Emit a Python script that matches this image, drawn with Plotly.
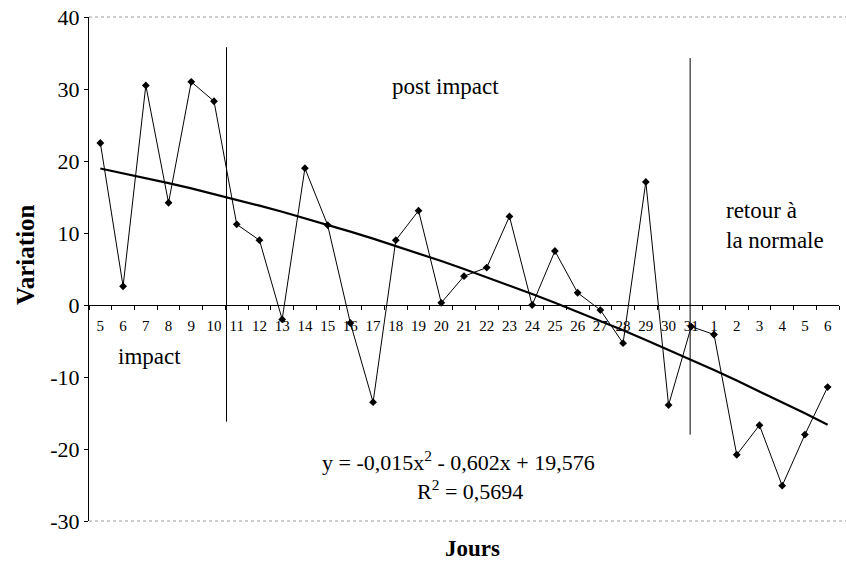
import plotly.graph_objects as go

# ---- data ----
day_labels = ["5", "6", "7", "8", "9", "10", "11", "12", "13", "14", "15", "16",
              "17", "18", "19", "20", "21", "22", "23", "24", "25", "26", "27",
              "28", "29", "30", "31", "1", "2", "3", "4", "5", "6"]
variation = [22.5, 2.6, 30.5, 14.2, 31.0, 28.3, 11.2, 9.0, -2.0, 19.0, 11.1, -2.5,
             -13.5, 9.0, 13.1, 0.3, 4.0, 5.2, 12.3, 0.0, 7.5, 1.7, -0.7,
             -5.3, 17.1, -13.9, -3.0, -4.1, -20.8, -16.7, -25.1, -18.0, -11.4]
trend_coeffs = [-0.015, -0.602, 19.576]   # y = a x^2 + b x + c (x = 1..n)
y_ticks = [-30, -20, -10, 0, 10, 20, 30, 40]
y_tick_labels = ["-30", "-20", "-10", "0", "10", "20", "30", "40"]

serif = "Liberation Serif, Times New Roman, serif"

xs = list(range(len(day_labels)))
trend = [trend_coeffs[0] * (i + 1) ** 2 + trend_coeffs[1] * (i + 1) + trend_coeffs[2] for i in xs]

fig = go.Figure()
fig.add_trace(go.Scatter(x=xs, y=trend, mode="lines",
                         line=dict(color="black", width=2.2), hoverinfo="skip"))
fig.add_trace(go.Scatter(x=xs, y=variation, mode="lines+markers",
                         line=dict(color="black", width=1),
                         marker=dict(symbol="diamond", size=6, color="black")))

W, H = 846, 563
ml, mr, mt, mb = 89, 7, 17, 42
pw = W - ml - mr
ph = H - mt - mb

fig.update_layout(
    width=W, height=H, showlegend=False,
    margin=dict(l=ml, r=mr, t=mt, b=mb, autoexpand=False),
    paper_bgcolor="white", plot_bgcolor="white",
    font=dict(family=serif, color="black"),
    xaxis=dict(range=[-0.5, len(xs) - 0.5], tickvals=xs, ticktext=day_labels,
               ticks="", showgrid=False, zeroline=False, automargin=False,
               showline=True, linecolor="black", linewidth=1,
               anchor="free", position=(0 - (-30)) / 70,
               tickfont=dict(size=15, family=serif),
               ticklabelstandoff=7,
               minor=dict(tickvals=[i - 0.5 for i in range(len(xs) + 1)],
                          ticks="outside", ticklen=4, tickcolor="black", tickwidth=1,
                          showgrid=False)),
    yaxis=dict(range=[-30, 40], tickvals=y_ticks, ticktext=y_tick_labels,
               ticks="outside", ticklen=4, automargin=False,
               tickcolor="black", showgrid=False, zeroline=False,
               showline=True, linecolor="black", linewidth=1,
               tickfont=dict(size=22, family=serif)),
)

# dotted gray top / bottom frame
for yv in (1, 0):
    fig.add_shape(type="line", xref="paper", yref="paper", x0=0, x1=1.01, y0=yv, y1=yv,
                  line=dict(color="#9a9a9a", width=1, dash="dot"))

# period separators
fig.add_shape(type="line", x0=5.55, x1=5.55, y0=-16.2, y1=35.8,
              line=dict(color="black", width=1))
fig.add_shape(type="line", x0=25.95, x1=25.95, y0=-18.0, y1=34.3,
              line=dict(color="black", width=1))

ann = dict(showarrow=False, font=dict(family=serif, size=23, color="black"))
fig.add_annotation(x=15.2, y=30.3, text="post impact", xanchor="center", **ann)
fig.add_annotation(x=2.15, y=-7.2, text="impact", xanchor="center", **ann)
fig.add_annotation(x=27.45, y=11.1, text="retour à<br>la normale", xanchor="left",
                   align="left", **ann)
fig.add_annotation(x=15.75, y=-21.6, text="y = -0,015x<sup>2</sup> - 0,602x + 19,576",
                   xanchor="center", showarrow=False,
                   font=dict(family=serif, size=22, color="black"))
fig.add_annotation(x=16.25, y=-25.7, text="R<sup>2</sup> = 0,5694",
                   xanchor="center", showarrow=False,
                   font=dict(family=serif, size=22, color="black"))

# axis titles
fig.add_annotation(xref="paper", yref="paper", x=(472 - ml) / pw, y=(H - mb - 548) / ph,
                   xanchor="center", yanchor="middle",
                   text="<b>Jours</b>", showarrow=False,
                   font=dict(family=serif, size=23, color="black"))
fig.add_annotation(xref="paper", yref="paper", x=(25 - ml) / pw, y=(H - mb - 255) / ph,
                   xanchor="center", yanchor="middle",
                   text="<b>Variation</b>", textangle=-90, showarrow=False,
                   font=dict(family=serif, size=25, color="black"))

fig.write_html("out.html", config={"displayModeBar": False},
               post_script="document.body.style.margin='0';document.body.style.padding='0';")
